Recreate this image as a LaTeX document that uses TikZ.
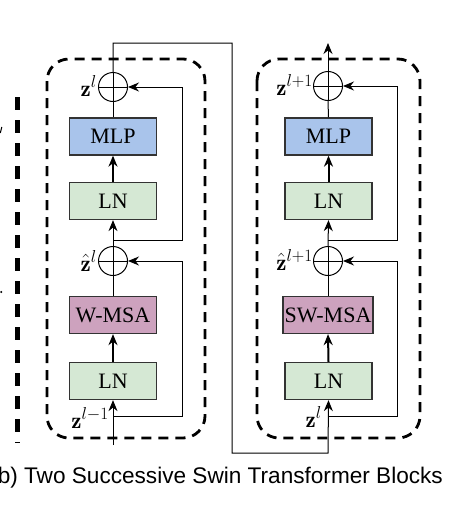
\documentclass[tikz,border=0pt]{standalone}
\usepackage{fontspec}
\newfontfamily\timesf{Liberation Serif}
\newfontfamily\arialf{Liberation Sans}
\usetikzlibrary{arrows.meta}
\definecolor{mlpblue}{HTML}{A9C4EB}
\definecolor{lngreen}{HTML}{D5E8D4}
\definecolor{msapink}{HTML}{CDA2BE}
\tikzset{
  blk/.style={draw=black!80, line width=1.3pt, minimum width=87pt, minimum height=37pt,
    inner sep=0pt, font=\timesf\fontsize{22}{26}\selectfont},
  oplus/.style={circle, draw, line width=1pt, minimum size=29pt, inner sep=0pt,
    path picture={\draw[line width=1pt] (path picture bounding box.west) -- (path picture bounding box.east)
      (path picture bounding box.north) -- (path picture bounding box.south);}},
  thin/.style={line width=1pt},
  thk/.style={line width=2pt},
  arr/.style={-{Stealth[length=11pt,width=9pt]}},
  zlab/.style={font=\fontsize{23}{27}\selectfont, inner sep=1pt},
  blockbox/.style={line width=2.8pt, dash pattern=on 10pt off 7pt, rounded corners=22pt},
}
\begin{document}
\begin{tikzpicture}[x=1pt,y=-1pt]
\useasboundingbox (0,0) rectangle (464,506);

% outer dashed separator and fragments of left panel
\draw[line width=5pt, dash pattern=on 13pt off 10pt] (17.5,97) -- (17.5,443);
\draw[line width=1pt] (0.3,133) -- (1.8,127);
\fill (1.2,292) circle (1.1pt);

% dashed block outlines
\draw[blockbox] (47,59) rectangle (205,438);
\draw[blockbox] (257,59) rectangle (420,438);

% ---------- left block ----------
\node[oplus] (addA) at (113,87) {};
\node[blk, fill=mlpblue] (mlpA) at (113,136.5) {MLP};
\node[blk, fill=lngreen] (lnA2) at (113,201) {LN};
\node[oplus] (addB) at (113,261) {};
\node[blk, fill=msapink] (msaA) at (113,315) {W-MSA};
\node[blk, fill=lngreen] (lnA1) at (113,381) {LN};

\coordinate (inA) at (113,445);
\coordinate (jA1) at (113,416);
\coordinate (jA2) at (113,240);
\coordinate (rA1) at (182,416);
\coordinate (rA1t) at (182,261);
\coordinate (rA2) at (182,240);
\coordinate (rA2t) at (182,87);

\draw[thin, arr] (inA) -- (lnA1.south);
\draw[thk, arr] (lnA1.north) -- (msaA.south);
\draw[thin] (msaA.north) -- (addB.south);
\draw[thin, arr] (addB.north) -- (lnA2.south);
\draw[thk, arr] (lnA2.north) -- (mlpA.south);
\draw[thin] (mlpA.north) -- (addA.south);
\draw[thin, arr] (jA1) -- (rA1) -- (rA1t) -- (addB.east);
\draw[thin, arr] (jA2) -- (rA2) -- (rA2t) -- (addA.east);

\node[zlab, anchor=east] (lzA) at (98,86) {$\mathbf{z}^{l}$};
\node[zlab, anchor=east] (lzhA) at (98,261) {$\hat{\mathbf{z}}^{l}$};
\node[zlab, anchor=east] (lzinA) at (110,418) {$\mathbf{z}^{l-1}$};

% ---------- right block ----------
\node[oplus] (addC) at (328,86) {};
\node[blk, fill=mlpblue] (mlpB) at (328.5,136.5) {MLP};
\node[blk, fill=lngreen] (lnB2) at (328.5,201) {LN};
\node[oplus] (addD) at (328,261) {};
\node[blk, fill=msapink, minimum width=90pt] (msaB) at (328,315) {SW-MSA};
\node[blk, fill=lngreen] (lnB1) at (328.5,381) {LN};

\coordinate (jB1) at (328,416);
\coordinate (jB2) at (328,240);
\coordinate (rB1) at (397,416);
\coordinate (rB1t) at (397,261);
\coordinate (rB2) at (397,240);
\coordinate (rB2t) at (397,86);
\coordinate (outB) at (328,43);

% connection between the two blocks
\coordinate (c1) at (113,43);
\coordinate (c2) at (232,43);
\coordinate (c3) at (232,453);
\coordinate (c4) at (328,453);
\draw[thin, arr] (addA.north) -- (c1) -- (c2) -- (c3) -- (c4) -- (lnB1.south);

\draw[thk, arr] (lnB1.north) -- (msaB.south);
\draw[thin] (msaB.north) -- (addD.south);
\draw[thin, arr] (addD.north) -- (lnB2.south);
\draw[thk, arr] (lnB2.north) -- (mlpB.south);
\draw[thin] (mlpB.north) -- (addC.south);
\draw[thin, arr] (addC.north) -- (outB);
\draw[thin, arr] (jB1) -- (rB1) -- (rB1t) -- (addD.east);
\draw[thin, arr] (jB2) -- (rB2) -- (rB2t) -- (addC.east);

\node[zlab, anchor=east] (lzB) at (314,85) {$\mathbf{z}^{l+1}$};
\node[zlab, anchor=east] (lzhB) at (314,260) {$\hat{\mathbf{z}}^{l+1}$};
\node[zlab, anchor=east] (lzinB) at (323,417) {$\mathbf{z}^{l}$};

% caption (cut at the left edge, as in the source figure)
\node[anchor=base east, inner sep=0pt, font=\arialf\fontsize{22.6}{26}\selectfont] (cap) at (443,483)
  {(b) Two Successive Swin Transformer Blocks};
\end{tikzpicture}
\end{document}
